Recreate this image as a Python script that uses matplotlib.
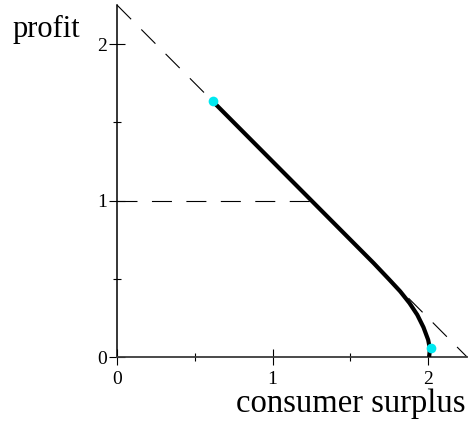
import matplotlib
matplotlib.use("Agg")
import matplotlib.pyplot as plt

# donnees
surplus = [0.615, 1.0, 1.24, 1.5, 1.65, 1.75, 1.82, 1.88, 1.93, 1.97, 2.0, 2.012, 2.006]
profit = [1.635, 1.25, 1.01, 0.75, 0.60, 0.495, 0.42, 0.345, 0.27, 0.19, 0.11, 0.05, 0.0]
points_x = [0.615, 2.017]
points_y = [1.635, 0.056]
total = 2.25          # droite x + y = total
niveau = 1.0          # profit de reference
niveau_x = 1.24       # la courbe coupe profit = 1 ici
ticks_maj = [0, 1, 2]
ticks_min = [0.5, 1.5]

plt.rcParams['font.family'] = ['Liberation Serif', 'DejaVu Serif']

fig = plt.figure(figsize=(4.69, 4.21), dpi=100)
ax = fig.add_axes([0.2495, 0.152, 0.7463, 0.836])

ax.plot([0, total], [total, 0], color='black', lw=0.8, dashes=(18, 13), clip_on=False)
ax.plot([0, niveau_x], [niveau, niveau], color='black', lw=0.8, dashes=(18, 13))
ax.plot(surplus, profit, color='black', lw=3, solid_capstyle='butt', zorder=3)
ax.plot(points_x, points_y, 'o', color='#00e8f0', ms=7, mec='none', zorder=4, clip_on=False)

ax.set_xlim(0, total)
ax.set_ylim(0, total)
for s in ['top', 'right']:
    ax.spines[s].set_visible(False)
ax.spines['left'].set_linewidth(1.1)
ax.spines['bottom'].set_linewidth(1.3)
ax.spines['bottom'].set_color('#3a3a3a')

ax.set_xticks(ticks_maj)
ax.set_yticks(ticks_maj)
ax.set_xticks(ticks_min, minor=True)
ax.set_yticks(ticks_min, minor=True)
ax.tick_params(which='major', direction='inout', length=12, width=0.8, labelsize=14)
ax.tick_params(which='minor', direction='inout', length=6, width=0.8)
ax.tick_params(axis='y', which='major', pad=1)
ax.tick_params(axis='x', which='major', pad=4)

fig.text(13/469, 1 - 37/421, "profit", fontsize=22, ha='left', va='baseline')
fig.text(465/469, 1 - 412/421, "consumer surplus", fontsize=23.5, ha='right', va='baseline')

fig.savefig("out.png", dpi=100)
